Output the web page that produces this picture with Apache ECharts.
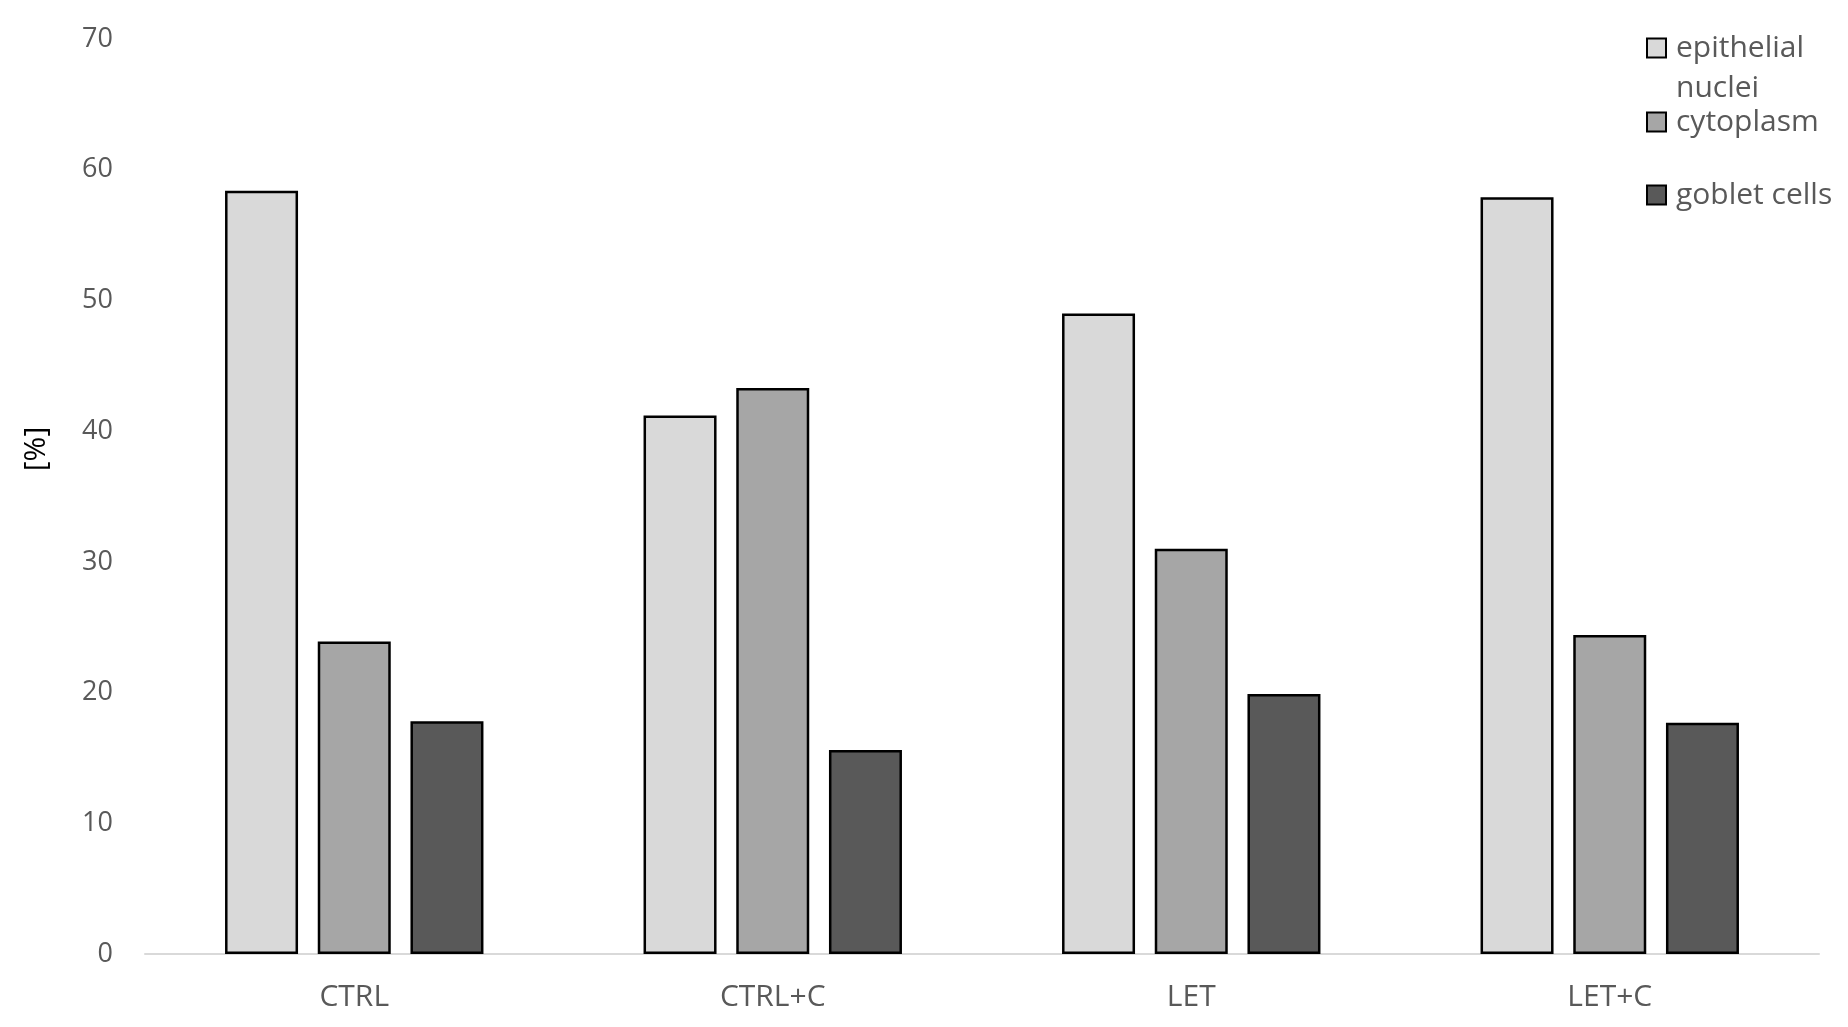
<!DOCTYPE html>
<html>
<head>
<meta charset="utf-8">
<script src="https://cdn.jsdelivr.net/npm/echarts@6/dist/echarts.min.js"></script>
<style>
  html, body { margin: 0; padding: 0; background: #fff; }
</style>
</head>
<body>
<div id="echarts" style="width: 1848px; height: 1027px"></div>
<script>
const categories = ['CTRL', 'CTRL+C', 'LET', 'LET+C'];
const epithelialNuclei = [58.4, 41.2, 49.0, 57.9];
const cytoplasm = [23.9, 43.3, 31.0, 24.4];
const gobletCells = [17.8, 15.6, 19.9, 17.7];
const yTicks = [0, 10, 20, 30, 40, 50, 60, 70];

const textGrey = '#595959';
const font = 'Open Sans';

function legendAt(name, top) {
  return {
    data: [name],
    left: 1646,
    top: top,
    padding: 0,
    orient: 'vertical',
    icon: 'rect',
    itemWidth: 19,
    itemHeight: 19,
    itemGap: 0,
    selectedMode: false,
    formatter: function (n) {
      // blank first line keeps "epithelial" level with the square
      return n === 'epithelial nuclei' ? ' \n\u2009epithelial\n\u2009nuclei' : '\u2009' + n;
    },
    textStyle: {
      color: textGrey,
      fontFamily: font,
      fontSize: 30,
      lineHeight: 40
    }
  };
}

function barSeries(name, data, color) {
  return {
    name: name,
    type: 'bar',
    data: data,
    barWidth: 73,
    barGap: '27%',
    itemStyle: {
      color: color,
      borderColor: '#000',
      borderWidth: 2.5
    }
  };
}

let myChart = echarts.init(document.getElementById('echarts'));

myChart.setOption({
  animation: false,
  backgroundColor: '#fff',
  grid: {
    left: 145,
    right: 29,
    top: 39,
    bottom: 73
  },
  legend: [
    legendAt('epithelial nuclei', -12),
    legendAt('cytoplasm', 102),
    legendAt('goblet cells', 175)
  ],
  graphic: [{
    type: 'text',
    x: 36,
    y: 449,
    rotation: Math.PI / 2,
    style: {
      text: '[%]',
      fill: '#000',
      font: '30px "Open Sans"',
      align: 'center',
      verticalAlign: 'middle'
    }
  }],
  xAxis: {
    type: 'category',
    data: categories,
    axisLine: { lineStyle: { color: '#d9d9d9', width: 2 } },
    axisTick: { show: false },
    axisLabel: {
      color: textGrey,
      fontFamily: font,
      fontSize: 30,
      margin: 28
    }
  },
  yAxis: {
    type: 'value',
    min: yTicks[0],
    max: yTicks[yTicks.length - 1],
    interval: 10,
    axisLine: { show: false },
    axisTick: { show: false },
    splitLine: { show: false },
    axisLabel: {
      color: textGrey,
      fontFamily: font,
      fontSize: 27,
      margin: 32
    }
  },
  series: [
    barSeries('epithelial nuclei', epithelialNuclei, '#d9d9d9'),
    barSeries('cytoplasm', cytoplasm, '#a6a6a6'),
    barSeries('goblet cells', gobletCells, '#595959')
  ]
});
</script>
</body>
</html>
